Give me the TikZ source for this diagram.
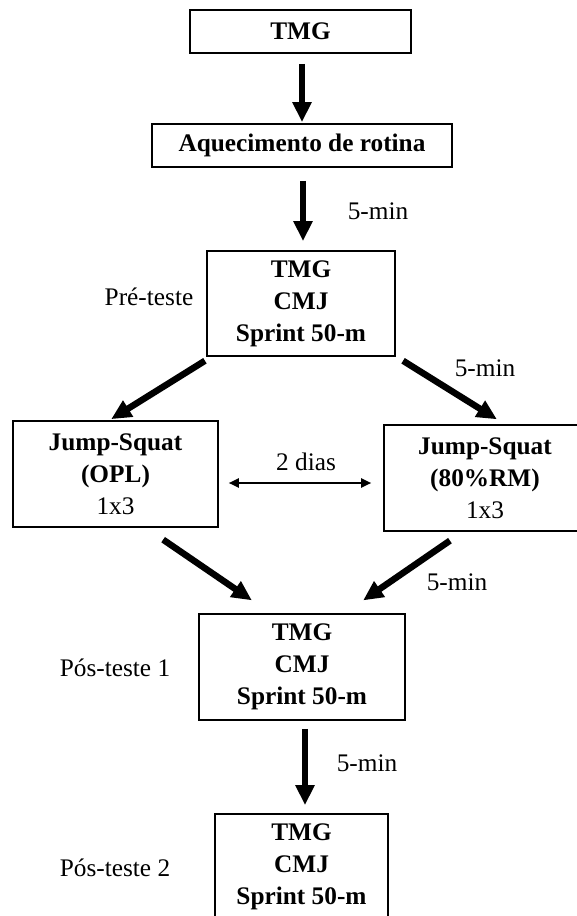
\documentclass[tikz,border=0pt]{standalone}
\usepackage{fontspec}
\setmainfont{Liberation Serif}
\usetikzlibrary{arrows.meta}
\tikzset{
  box/.style={draw, line width=1.6pt, inner sep=0pt, align=center,
    font=\fontsize{25.3}{32}\selectfont\bfseries},
  lbl/.style={inner sep=0pt, font=\fontsize{25.3}{32}\selectfont},
  big/.style={line width=6.5pt, -{Triangle[width=18pt,length=20pt]}},
  dbl/.style={line width=2pt, {Triangle[width=9pt,length=10pt]}-{Triangle[width=9pt,length=10pt]}},
}
\begin{document}
\begin{tikzpicture}[x=1pt,y=-1pt]
\useasboundingbox (0,0) rectangle (577,916);
\fill[white] (0,0) rectangle (577,916);
\clip (0,0) rectangle (577,916);

% boxes
\node[box, minimum width=221pt, minimum height=43pt] (tmg1) at (300.5,31.5) {TMG};
\node[box, minimum width=300pt, minimum height=43pt] (aq) at (302,145.5) {Aquecimento de rotina};
\node[box, minimum width=188pt, minimum height=105pt] (pre) at (301,303.5) {TMG\\CMJ\\Sprint 50-m};
\node[box, minimum width=205pt, minimum height=106pt] (js1) at (115.5,474) {Jump-Squat\\(OPL)\\\mdseries 1x3};
\node[box, minimum width=202pt, minimum height=106pt] (js2) at (485,478) {Jump-Squat\\(80\%RM)\\\mdseries 1x3};
\node[box, minimum width=206pt, minimum height=106pt] (pos1) at (302,667) {TMG\\CMJ\\Sprint 50-m};
\node[box, minimum width=173pt, minimum height=106pt] (pos2) at (301.5,867) {TMG\\CMJ\\Sprint 50-m};

% labels
\node[lbl] (m1) at (378,211) {5-min};
\node[lbl] (m2) at (485,368) {5-min};
\node[lbl] (m3) at (457,582) {5-min};
\node[lbl] (m4) at (367,763) {5-min};
\node[lbl] (pt) at (149,297) {Pré-teste};
\node[lbl] (p1) at (115,668) {Pós-teste 1};
\node[lbl] (p2) at (115,868) {Pós-teste 2};
\node[lbl] (dias) at (306,462) {2 dias};

% connectors
\draw[big, shorten <=10pt, shorten >=1pt] ([xshift=1.5pt]tmg1.south) -- (aq.north);
\draw[big, shorten <=13pt, shorten >=9pt] ([xshift=1pt]aq.south) -- ([xshift=2pt]pre.north);
\draw[big, shorten <=7.5pt, shorten >=2pt] ([xshift=-89.7pt]pre.south) -- ([xshift=-6pt]js1.north);
\draw[big, shorten <=7.5pt, shorten >=9.3pt] ([xshift=95.7pt]pre.south) -- ([xshift=19.8pt]js2.north);
\draw[big, shorten <=21pt, shorten >=22.8pt] ([xshift=30.3pt]js1.south) -- ([xshift=-31.3pt]pos1.north);
\draw[big, shorten <=15.6pt, shorten >=22.6pt] ([xshift=-22.2pt]js2.south) -- ([xshift=42.5pt]pos1.north);
\draw[big, shorten <=8pt, shorten >=8pt] ([xshift=3pt]pos1.south) -- ([xshift=3.5pt]pos2.north);
\draw[dbl, shorten <=10pt, shorten >=12pt] ([yshift=-9pt]js1.east) -- ([yshift=-5pt]js2.west);
\end{tikzpicture}
\end{document}
